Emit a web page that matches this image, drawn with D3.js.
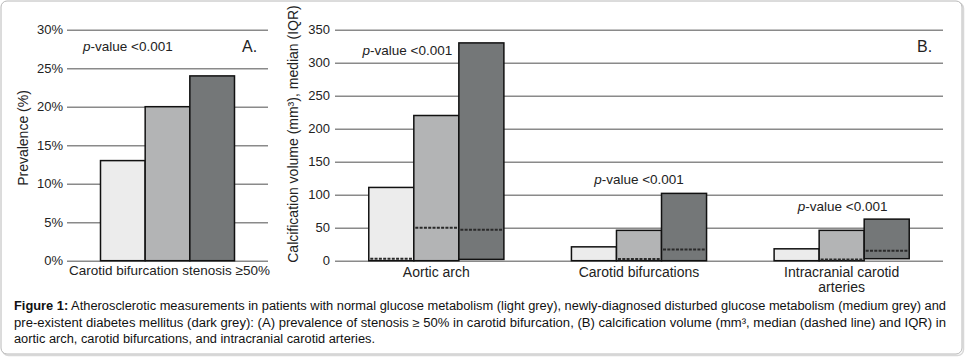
<!DOCTYPE html>
<html><head><meta charset="utf-8">
<script src="https://cdn.jsdelivr.net/npm/d3@7/dist/d3.min.js"></script>
<style>
body{margin:0;background:#fff;}
svg{display:block;font-family:"Liberation Sans",Arial,sans-serif;}
</style></head>
<body><svg id="c" width="965" height="358"></svg>
<script>
// ---- data ----
const groups = ["normal","disturbed","diabetes"];
const groupColors = ["#ececec","#b3b4b5","#747778"];

// Panel A
const catA = ["Carotid bifurcation stenosis \u226550%"];
const prevalence = [0.13, 0.20, 0.24];
const ticksA = [0,0.05,0.10,0.15,0.20,0.25,0.30];

// Panel B (IQR bars with median)
const catB = ["Aortic arch","Carotid bifurcations","Intracranial carotid arteries"];
const q1Normal = [0,0,0],   q3Normal = [111,21,18],  medNormal = [3,0,0];
const q1Disturbed = [0,0,0], q3Disturbed = [220,46,46], medDisturbed = [50,2.5,2];
const q1Diabetes = [2,0,3],  q3Diabetes = [330,102,63], medDiabetes = [47,17,15];
const ticksB = [0,50,100,150,200,250,300,350];
const pLabel = "<0.001";

const captionLines = [
 ["Figure 1:"," Atherosclerotic measurements in patients with normal glucose metabolism (light grey), newly-diagnosed disturbed glucose metabolism (medium grey) and"],
 ["","pre-existent diabetes mellitus (dark grey): (A) prevalence of stenosis \u2265 50% in carotid bifurcation, (B) calcification volume (mm\u00b3, median (dashed line) and IQR) in"],
 ["","aortic arch, carotid bifurcations, and intracranial carotid arteries."]
];

const svg = d3.select("#c");
// frame
svg.append("rect").attr("x",2.5).attr("y",2.5).attr("width",961).attr("height",353).attr("rx",6)
  .attr("fill","none").attr("stroke","#d8d8d8").attr("stroke-width",1.5);
svg.append("rect").attr("x",1).attr("y",1).attr("width",961).attr("height",353).attr("rx",6)
  .attr("fill","#fff").attr("stroke","#b8b8b8").attr("stroke-width",1);

const textCol = "#222";
const gridCol = "#8a8a8a";

function styleAxis(g){
  g.select(".domain").remove();
  g.selectAll(".tick line").attr("stroke",gridCol).attr("stroke-width",1.4);
  g.selectAll(".tick text").attr("fill",textCol).style("font-size","13px")
   .style("font-family","'Liberation Sans',Arial,sans-serif");
}

// ---------- Panel A ----------
const yA = d3.scaleLinear().domain([0,0.30]).range([260.7,29.7]);
const xA = d3.scaleBand().domain(catA).range([67,268]).padding(0);
const gA = svg.append("g");
gA.append("g").attr("transform","translate(67,0)")
  .call(d3.axisLeft(yA).tickValues(ticksA).tickFormat(d3.format(".0%")).tickSizeInner(-201).tickSizeOuter(0).tickPadding(4))
  .call(styleAxis);
const subA = d3.scaleBand().domain(groups).range([xA.bandwidth()/6, xA.bandwidth()*5/6]).padding(0);
gA.selectAll("rect.bar").data(groups.map((g,i)=>({g,i,v:prevalence[i]}))).join("rect")
  .attr("x",d=>xA(catA[0])+subA(d.g)).attr("width",subA.bandwidth())
  .attr("y",d=>yA(d.v)).attr("height",d=>yA(0)-yA(d.v))
  .attr("fill",d=>groupColors[d.i]).attr("stroke","#111").attr("stroke-width",1.5);
gA.append("text").attr("x",xA(catA[0])+xA.bandwidth()/2+2).attr("y",275)
  .attr("text-anchor","middle").attr("fill",textCol).style("font-size","13.5px").text(catA[0]);
gA.append("text").attr("x",83).attr("y",51).attr("fill",textCol).style("font-size","13.5px")
  .call(t=>{t.append("tspan").style("font-style","italic").text("p");t.append("tspan").text("-value "+pLabel);});
gA.append("text").attr("x",242).attr("y",52).attr("fill",textCol).style("font-size","16px").text("A.");
gA.append("text").attr("transform","translate(28,138) rotate(-90)").attr("text-anchor","middle")
  .attr("fill",textCol).style("font-size","14px").text("Prevalence (%)");

// ---------- Panel B ----------
const yB = d3.scaleLinear().domain([0,350]).range([260.7,29.7]);
const xB = d3.scaleBand().domain(catB).range([335,943]).padding(0);
const gB = svg.append("g");
gB.append("g").attr("transform","translate(335,0)")
  .call(d3.axisLeft(yB).tickValues(ticksB).tickFormat(d3.format("d")).tickSizeInner(-608).tickSizeOuter(0).tickPadding(5))
  .call(styleAxis);
const subB = d3.scaleBand().domain(groups).range([xB.bandwidth()/6, xB.bandwidth()*5/6]).padding(0);
const q1s=[q1Normal,q1Disturbed,q1Diabetes], q3s=[q3Normal,q3Disturbed,q3Diabetes], meds=[medNormal,medDisturbed,medDiabetes];
const barsB=[];
catB.forEach((c,ci)=>groups.forEach((g,gi)=>barsB.push({c,g,gi,lo:q1s[gi][ci],hi:q3s[gi][ci],med:meds[gi][ci]})));
gB.selectAll("rect.bar").data(barsB).join("rect")
  .attr("x",d=>xB(d.c)+subB(d.g)).attr("width",subB.bandwidth())
  .attr("y",d=>yB(d.hi)).attr("height",d=>yB(d.lo)-yB(d.hi))
  .attr("fill",d=>groupColors[d.gi]).attr("stroke","#111").attr("stroke-width",1.5);
gB.selectAll("line.med").data(barsB.filter(d=>d.med>0)).join("line")
  .attr("x1",d=>xB(d.c)+subB(d.g)+1.5).attr("x2",d=>xB(d.c)+subB(d.g)+subB.bandwidth()-1.5)
  .attr("y1",d=>yB(d.med)).attr("y2",d=>yB(d.med))
  .attr("stroke","#2a2a2a").attr("stroke-width",2).attr("stroke-dasharray","3,1.3");
// category labels
catB.forEach((c,ci)=>{
  const cx = xB(c)+xB.bandwidth()/2;
  const t = gB.append("text").attr("text-anchor","middle").attr("fill",textCol).style("font-size","14px");
  if(ci===2){
    t.append("tspan").attr("x",cx).attr("y",277).text("Intracranial carotid");
    t.append("tspan").attr("x",cx).attr("y",292).text("arteries");
  } else t.attr("x",cx).attr("y",277).text(c);
});
// p-value labels
const pPos = [[xB(catB[0])+xB.bandwidth()/2-29, 55],[xB(catB[1])+xB.bandwidth()/2, 184],[xB(catB[2])+xB.bandwidth()/2+1, 211]];
pPos.forEach(p=>{
  gB.append("text").attr("x",p[0]).attr("y",p[1]).attr("text-anchor","middle").attr("fill",textCol).style("font-size","13.5px")
   .call(t=>{t.append("tspan").style("font-style","italic").text("p");t.append("tspan").text("-value "+pLabel);});
});
gB.append("text").attr("x",917).attr("y",52).attr("fill",textCol).style("font-size","16px").text("B.");
gB.append("text").attr("transform","translate(298,134) rotate(-90)").attr("text-anchor","middle")
  .attr("fill",textCol).style("font-size","14px").text("Calcification volume (mm\u00b3), median (IQR)");

// ---------- caption ----------
const capY=[310,327,343];
const capLen=[932,932,361];
captionLines.forEach((l,i)=>{
  const t = svg.append("text").attr("x",14).attr("y",capY[i]).attr("fill","#111").style("font-size","12px");
  if(l[0]) t.append("tspan").style("font-weight","bold").text(l[0]);
  t.append("tspan").text(l[1]);
  t.attr("textLength",capLen[i]).attr("lengthAdjust","spacingAndGlyphs");
});
</script></body></html>
